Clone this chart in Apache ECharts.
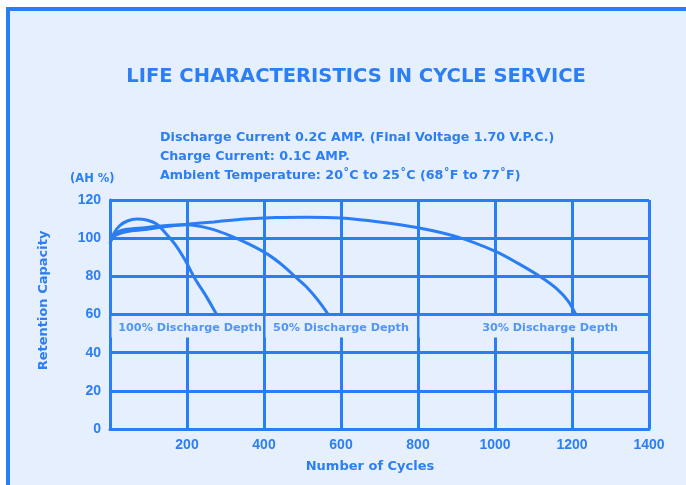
<!DOCTYPE html>
<html>
<head>
<meta charset="utf-8">
<title>Life Characteristics in Cycle Service</title>
<script src="https://cdn.jsdelivr.net/npm/echarts@6/dist/echarts.min.js"></script>
<style>
  html, body { margin: 0; padding: 0; background: #ffffff; }
  #frame {
    position: absolute; left: 6px; top: 7px; width: 700px; height: 500px;
    border-left: 4px solid #2a7ef5; border-top: 4px solid #2a7ef5;
    background: #e6effd;
  }
  #chart { position: absolute; left: 0; top: 0; width: 686px; height: 485px; }
</style>
</head>
<body>
<div id="frame"></div>
<div id="chart"></div>
<script>
// values: [cycles, retention capacity %]
const depth100 = [[0, 97], [10, 102.5], [25, 106.5], [45, 109], [70, 110], [95, 109.5], [120, 107.5],
  [145, 102.5], [170, 96.5], [195, 88.5], [220, 79], [250, 69.5], [277, 60]];
const depth50 = [[0, 98], [15, 102.5], [40, 104.5], [90, 105.5], [140, 106.5], [200, 107], [260, 105],
  [310, 101.5], [360, 97], [410, 91.5], [450, 85.5], [480, 80], [510, 74.5], [540, 67.5], [567, 60]];
const depth30 = [[0, 98.5], [15, 101.5], [45, 103.5], [90, 104.5], [140, 106], [200, 107.3], [270, 108.5],
  [350, 110], [430, 110.8], [510, 111], [600, 110.6], [700, 108.5], [800, 105.5], [900, 100.8],
  [1000, 93.2], [1060, 86.8], [1120, 79.5], [1160, 73.5], [1190, 67], [1210, 60]];

const depthNames = ['100% Discharge Depth', '50% Discharge Depth', '30% Discharge Depth'];
const labelCycles = [208, 600, 1143];      // where each depth label sits
const labelLevel = 53;
const cellEdges = [0, 400, 800, 1400];     // the label row is split into these cells
const labelRow = [48, 60];                 // label row spans these capacity values

const conditions = [
  'Discharge Current 0.2C AMP. (Final Voltage 1.70 V.P.C.)',
  'Charge Current: 0.1C AMP.',
  'Ambient Temperature: 20\u02DAC to 25\u02DAC (68\u02DAF to 77\u02DAF)'
];

const BLUE = '#2a7ef5';
const TXT = '#2c7ef4';
const BG = '#e6effd';
const FONT = '"DejaVu Sans", Verdana, sans-serif';
const NUMFONT = '"Liberation Sans Narrow", "Liberation Sans", Arial, sans-serif';

let chart = echarts.init(document.getElementById('chart'), null, { renderer: 'canvas' });

// mask cells, inset a little so the cell borders stay visible
let cells = [];
for (let i = 0; i < cellEdges.length - 1; i++) {
  cells.push([
    { xAxis: cellEdges[i] + 4, yAxis: labelRow[0] },
    { xAxis: cellEdges[i + 1] - 4, yAxis: labelRow[1] - 0.8 }
  ]);
}

let curve = (name, data) => ({
  name: name,
  type: 'line',
  data: data,
  smooth: 0.3,
  showSymbol: false,
  lineStyle: { color: BLUE, width: 3 },
  z: 3
});

let option = {
  backgroundColor: 'transparent',
  animation: false,
  title: [
    {
      text: 'LIFE CHARACTERISTICS IN CYCLE SERVICE',
      left: 356, top: 67, textAlign: 'center', padding: 0,
      textStyle: { color: TXT, fontSize: 19.5, fontWeight: 'bold', fontFamily: FONT }
    },
    {
      text: conditions.join('\n'),
      left: 160, top: 128, padding: 0,
      textStyle: { color: TXT, fontSize: 12.7, fontWeight: 'bold', fontFamily: FONT, lineHeight: 19 }
    },
    {
      text: '(AH %)',
      left: 70, top: 173, padding: 0,
      textStyle: { color: TXT, fontSize: 11.5, fontWeight: 'bold', fontFamily: FONT }
    }
  ],
  grid: { left: 110, right: 37, top: 200, bottom: 56 },
  xAxis: {
    type: 'value',
    min: 0, max: 1400, interval: 200,
    name: 'Number of Cycles',
    nameLocation: 'middle', nameGap: 31,
    nameTextStyle: { color: TXT, fontSize: 13, fontWeight: 'bold', fontFamily: FONT, padding: [0, 19, 0, 0] },
    axisLine: { show: true, lineStyle: { color: BLUE, width: 3 } },
    axisTick: { show: false },
    axisLabel: {
      color: TXT, fontSize: 14, fontWeight: 'bold', fontFamily: NUMFONT, margin: 9,
      formatter: v => (v === 0 ? '' : v)
    },
    splitLine: { show: true, lineStyle: { color: BLUE, width: 3 } }
  },
  yAxis: {
    type: 'value',
    min: 0, max: 120, interval: 20,
    name: 'Retention Capacity',
    nameLocation: 'middle', nameGap: 60, nameRotate: 90,
    nameTextStyle: { color: TXT, fontSize: 13, fontWeight: 'bold', fontFamily: FONT, padding: [0, 0, 0, 28] },
    axisLine: { show: true, lineStyle: { color: BLUE, width: 3 } },
    axisTick: { show: false },
    axisLabel: { color: TXT, fontSize: 14, fontWeight: 'bold', fontFamily: NUMFONT, margin: 9 },
    splitLine: { show: true, lineStyle: { color: BLUE, width: 3 } }
  },
  series: [
    curve(depthNames[0], depth100),
    curve(depthNames[1], depth50),
    curve(depthNames[2], depth30),
    {
      name: 'labels',
      type: 'scatter',
      symbolSize: 0,
      data: labelCycles.map(c => [c, labelLevel]),
      label: {
        show: true, position: 'inside',
        color: TXT, fontSize: 11.2, fontWeight: 'bold', fontFamily: FONT,
        formatter: p => depthNames[p.dataIndex]
      },
      markArea: {
        silent: true,
        itemStyle: { color: BG, borderWidth: 0 },
        data: cells
      },
      z: 4
    }
  ]
};

chart.setOption(option);
</script>
</body>
</html>
